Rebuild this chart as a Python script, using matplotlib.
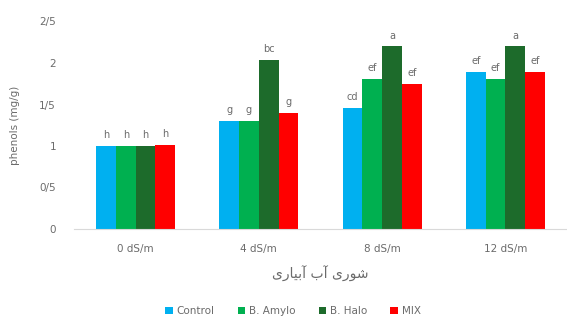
import numpy as np
import matplotlib.pyplot as plt

plt.rcParams['font.family'] = ['DejaVu Sans']

salinity = ['0 dS/m', '4 dS/m', '8 dS/m', '12 dS/m']
treatments = ['Control', 'B. Amylo', 'B. Halo', 'MIX']
control = [1.0, 1.30, 1.46, 1.89]
amylo = [1.0, 1.30, 1.81, 1.81]
halo = [1.0, 2.04, 2.20, 2.20]
mix = [1.01, 1.40, 1.75, 1.89]
letters_control = ['h', 'g', 'cd', 'ef']
letters_amylo = ['h', 'g', 'ef', 'ef']
letters_halo = ['h', 'bc', 'a', 'a']
letters_mix = ['h', 'g', 'ef', 'ef']
yticks = [0, 0.5, 1, 1.5, 2, 2.5]
ytick_labels = ['0', '0/5', '1', '1/5', '2', '2/5']
colors = ['#00B0F0', '#00B050', '#1D6B2B', '#FF0000']

# Persian axis title written with presentation forms in visual order
xlabel_fa = '\uFEEF\uFEAD\uFE8E\uFEF4\uFE91\uFE81 \uFE8F\uFE81 \uFEEF\uFEAD\uFEEE\uFEB7'

txt = '#6B6B6B'
fig = plt.figure(figsize=(5.67, 3.2), dpi=100)
ax = fig.add_axes([74 / 567, 91 / 320, 493 / 567, 207.5 / 320])

x = np.arange(len(salinity))
w = 0.16
series = [control, amylo, halo, mix]
labs = [letters_control, letters_amylo, letters_halo, letters_mix]
for i, (vals, lab) in enumerate(zip(series, labs)):
    pos = x + (i - 1.5) * w
    ax.bar(pos, vals, w, color=colors[i], label=treatments[i])
    for p, v, t in zip(pos, vals, lab):
        ax.text(p, v + 0.07, t, ha='center', va='bottom', fontsize=7, color=txt)

ax.set_xlim(-0.5, 3.5)
ax.set_ylim(0, 2.5)
ax.set_yticks(yticks)
ax.set_yticklabels(ytick_labels)
ax.set_xticks(x)
ax.set_xticklabels(salinity)
ax.tick_params(length=0, labelsize=7.5, colors=txt)
ax.tick_params(axis='x', pad=11)
ax.tick_params(axis='y', pad=13)
for s in ['top', 'right', 'left']:
    ax.spines[s].set_visible(False)
ax.spines['bottom'].set_color('#D9D9D9')
ax.set_ylabel('phenols (mg/g)', fontsize=7.5, color=txt, labelpad=14)
ax.set_xlabel(xlabel_fa, fontsize=10, color=txt, labelpad=8)

fig.legend(loc='center', bbox_to_anchor=(293 / 567, 9 / 320), ncol=4, frameon=False,
           fontsize=7.5, labelcolor=txt, handlelength=0.7, handleheight=0.7,
           columnspacing=2.2, handletextpad=0.4)

fig.savefig('out.png', dpi=100)
